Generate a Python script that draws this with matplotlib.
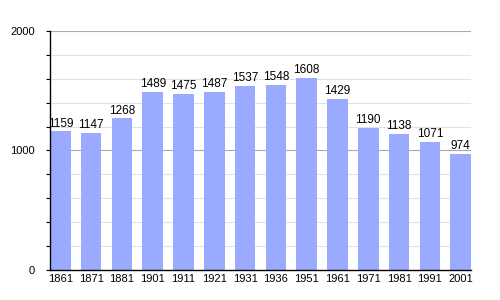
import matplotlib.pyplot as plt
import numpy as np

plt.rcParams['font.family'] = ['Liberation Sans', 'DejaVu Sans']

years = ['1861', '1871', '1881', '1901', '1911', '1921', '1931',
         '1936', '1951', '1961', '1971', '1981', '1991', '2001']
population = [1159, 1147, 1268, 1489, 1475, 1487, 1537,
              1548, 1608, 1429, 1190, 1138, 1071, 974]

fig = plt.figure(figsize=(5, 3), dpi=100)
ax = fig.add_axes([0.1, 0.1, 0.842, 0.797])

x = np.arange(len(years))
w = 0.67
# grid lines
for v in range(200, 2001, 200):
    col = '#aaaaaa' if v % 1000 == 0 else '#e2e2e2'
    ax.axhline(v, color=col, lw=0.8, zorder=0)

bars = ax.bar(x, population, w, color='#99aaff', zorder=2)
for xi, v in zip(x, population):
    ax.text(xi, v + 15, str(v), ha='center', va='bottom', fontsize=8.5)

ax.set_xlim(-w / 2, len(years) - 1 + w / 2)
ax.set_ylim(0, 2000)
ax.set_xticks(x)
ax.set_xticklabels(years, fontsize=8)
ax.set_yticks([0, 1000, 2000])
ax.set_yticklabels(['0', '1000', '2000'], fontsize=8)
ax.set_yticks(np.arange(0, 2001, 200), minor=True)
ax.tick_params(axis='x', length=0, pad=3)
ax.tick_params(axis='y', which='both', length=3, width=0.8, pad=8)
for s in ['top', 'right']:
    ax.spines[s].set_visible(False)
ax.spines['left'].set_linewidth(1)
ax.spines['bottom'].set_linewidth(1)

plt.savefig('out.png', dpi=100)
